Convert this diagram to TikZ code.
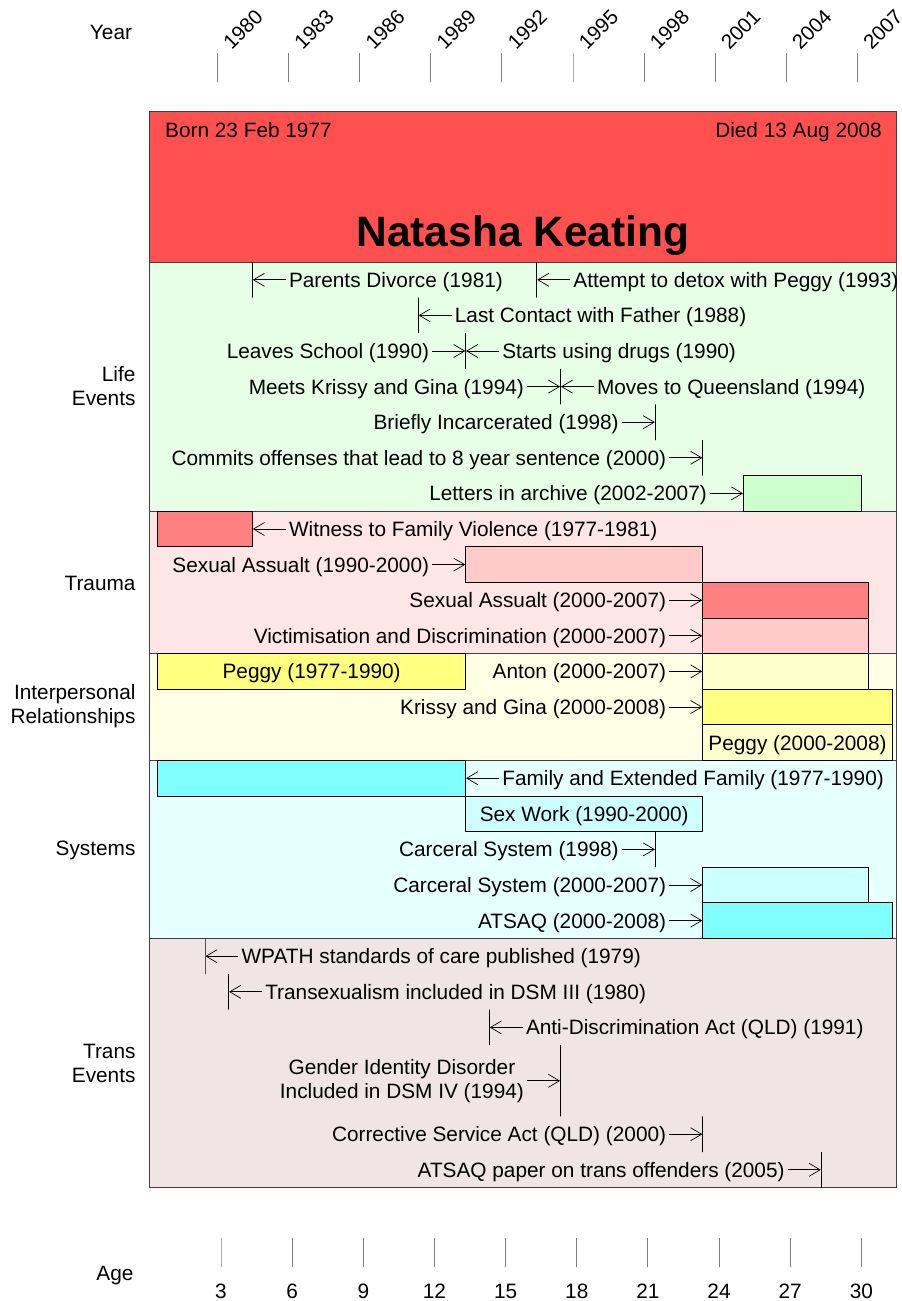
\documentclass[tikz,border=0pt]{standalone}
\usepackage{fontspec}
\setmainfont{Liberation Sans}
\usetikzlibrary{positioning, arrows.meta}

\definecolor{titlered}{HTML}{FF5050}
\definecolor{lifebg}{HTML}{E6FFE6}
\definecolor{letterbar}{HTML}{CCFFCC}
\definecolor{traumabg}{HTML}{FFE6E6}
\definecolor{redbar}{HTML}{FF8080}
\definecolor{pinkbar}{HTML}{FFCACA}
\definecolor{relbg}{HTML}{FFFFE6}
\definecolor{yellowbar}{HTML}{FFFF80}
\definecolor{paleyellow}{HTML}{FFFFCC}
\definecolor{sysbg}{HTML}{E6FFFF}
\definecolor{cyanbar}{HTML}{80FFFF}
\definecolor{palecyan}{HTML}{CCFFFF}
\definecolor{transbg}{HTML}{F0E4E4}
\definecolor{framegray}{HTML}{404040}

\begin{document}
\begin{tikzpicture}[x=1pt, y=-1pt, node distance=33pt,
    every node/.style={font=\fontsize{20.8}{24}\selectfont},
    txt/.style={inner sep=3pt, text height=15pt, text depth=0pt},
    evline/.style={draw=black, line width=0.8pt, inner sep=0pt, minimum width=0pt, minimum height=35.6pt},
    bar/.style={draw=black, line width=0.8pt, inner sep=0pt, minimum height=35.6pt, text height=15pt, text depth=0pt},
    pointer/.style={-{Straight Barb[length=11pt, width=13pt]}, line width=0.7pt},
    section/.style={draw=framegray, line width=1pt},
    axistick/.style={draw=gray, line width=1pt, inner sep=0pt, minimum width=0pt, minimum height=29pt},
    yearlabel/.style={rotate=45, anchor=south west, inner sep=0pt, font=\fontsize{20.5}{24}\selectfont}]

\useasboundingbox (0,0) rectangle (902,1301);

\draw[section, fill=titlered] (149.5,111) rectangle (896,262);
\draw[section, fill=lifebg] (149.5,262) rectangle (896,511.2);
\draw[section, fill=traumabg] (149.5,511.2) rectangle (896,653.6);
\draw[section, fill=relbg] (149.5,653.6) rectangle (896,760.4);
\draw[section, fill=sysbg] (149.5,760.4) rectangle (896,938.4);
\draw[section, fill=transbg] (149.5,938.4) rectangle (896,1187.6);

\node (year) at (111,32) {Year};
\foreach \yr [count=\i from 0] in {1980,1983,...,2007} {
    \node (t\yr) [axistick] at ({217.5+71.1*\i},67.5) {};
    \node (l\yr) [yearlabel] at ({232+71.1*\i},51) {\yr};
}
\node (age) at (115,1275) {Age};
\foreach \a [count=\i from 0] in {3,6,...,30} {
    \node (a\a) [axistick] at ({221+71.15*\i},1252.5) {};
    \node (n\a) at ({221+71.15*\i},1291) {\a};
}

\node (lifelbl) [align=right, anchor=east] at (139,386) {Life\\Events};
\node (traumalbl) [anchor=east] at (139,583) {Trauma};
\node (rellbl) [align=right, anchor=east] at (139,706) {Interpersonal\\Relationships};
\node (syslbl) [anchor=east] at (139,850) {Systems};
\node (translbl) [align=right, anchor=east] at (139,1063) {Trans\\Events};

\node (born) [txt, anchor=west] at (162,130) {Born 23 Feb 1977};
\node (died) [txt, anchor=east] at (885,130) {Died 13 Aug 2008};
\node (name) [font=\fontsize{42.5}{50}\selectfont\bfseries, anchor=base] at (523,246) {Natasha Keating};

% life events
\node (divorce) [evline] at (252.4,279.8) {};
\node (tdivorce) [txt, right=of divorce] {Parents Divorce (1981)};
\node (detox) [evline] at (536.8,279.8) {};
\node (tdetox) [txt, right=of detox] {Attempt to detox with Peggy (1993)};
\node (father) [evline] at (418.3,315.4) {};
\node (tfather) [txt, right=of father] {Last Contact with Father (1988)};
\node (school) [evline] at (465.7,351) {};
\node (tschool) [txt, left=of school] {Leaves School (1990)};
\node (tdrugs) [txt, right=of school] {Starts using drugs (1990)};
\node (move) [evline] at (560.5,386.6) {};
\node (tmeets) [txt, left=of move] {Meets Krissy and Gina (1994)};
\node (tmove) [txt, right=of move] {Moves to Queensland (1994)};
\node (jail) [evline] at (655.3,422.2) {};
\node (tjail) [txt, left=of jail] {Briefly Incarcerated (1998)};
\node (offense) [evline] at (702.7,457.8) {};
\node (toffense) [txt, left=of offense] {Commits offenses that lead to 8 year sentence (2000)};
\node (letters) [bar, fill=letterbar, minimum width=118.4pt] at (802.6,493.4) {};
\node (tletters) [txt, left=of letters] {Letters in archive (2002-2007)};

% trauma
\node (violence) [bar, fill=redbar, minimum width=94.8pt] at (205,529) {};
\node (tviolence) [txt, right=of violence] {Witness to Family Violence (1977-1981)};
\node (assault1) [bar, fill=pinkbar, minimum width=237pt] at (584.2,564.6) {};
\node (tassault1) [txt, left=of assault1] {Sexual Assualt (1990-2000)};
\node (assault2) [bar, fill=redbar, minimum width=166pt] at (785.7,600.2) {};
\node (tassault2) [txt, left=of assault2] {Sexual Assualt (2000-2007)};
\node (victim) [bar, fill=pinkbar, minimum width=166pt] at (785.7,635.8) {};
\node (tvictim) [txt, left=of victim] {Victimisation and Discrimination (2000-2007)};

% relationships
\node (peggy1) [bar, fill=yellowbar, minimum width=308.1pt] at (311.65,671.4) {Peggy (1977-1990)};
\node (anton) [bar, fill=paleyellow, minimum width=166pt] at (785.7,671.4) {};
\node (tanton) [txt, left=of anton] {Anton (2000-2007)};
\node (krissy) [bar, fill=yellowbar, minimum width=189.6pt] at (797.5,707) {};
\node (tkrissy) [txt, left=of krissy] {Krissy and Gina (2000-2008)};
\node (peggy2) [bar, fill=paleyellow, minimum width=189.6pt] at (797.5,742.6) {Peggy (2000-2008)};

% systems
\node (family) [bar, fill=cyanbar, minimum width=308.1pt] at (311.65,778.2) {};
\node (tfamily) [txt, right=of family] {Family and Extended Family (1977-1990)};
\node (sexwork) [bar, fill=palecyan, minimum width=237pt] at (584.2,813.8) {Sex Work (1990-2000)};
\node (prison1) [evline] at (655.3,849.4) {};
\node (tprison1) [txt, left=of prison1] {Carceral System (1998)};
\node (prison2) [bar, fill=palecyan, minimum width=166pt] at (785.7,885) {};
\node (tprison2) [txt, left=of prison2] {Carceral System (2000-2007)};
\node (atsaq) [bar, fill=cyanbar, minimum width=189.6pt] at (797.5,920.6) {};
\node (tatsaq) [txt, left=of atsaq] {ATSAQ (2000-2008)};

% trans events
\node (wpath) [evline] at (205,956.2) {};
\node (twpath) [txt, right=of wpath] {WPATH standards of care published (1979)};
\node (dsm3) [evline] at (228.7,991.8) {};
\node (tdsm3) [txt, right=of dsm3] {Transexualism included in DSM III (1980)};
\node (antidisc) [evline] at (489.4,1027.4) {};
\node (tantidisc) [txt, right=of antidisc] {Anti-Discrimination Act (QLD) (1991)};
\node (dsm4) [evline, minimum height=71.2pt] at (560.5,1080.8) {};
\node (tdsm4) [align=center, inner sep=3pt, left=of dsm4] {Gender Identity Disorder\\Included in DSM IV (1994)};
\node (corrective) [evline] at (702.7,1134.2) {};
\node (tcorrective) [txt, left=of corrective] {Corrective Service Act (QLD) (2000)};
\node (paper) [evline] at (821.2,1169.8) {};
\node (tpaper) [txt, left=of paper] {ATSAQ paper on trans offenders (2005)};

\draw[pointer] (tdivorce) -- (divorce);
\draw[pointer] (tdetox) -- (detox);
\draw[pointer] (tfather) -- (father);
\draw[pointer] (tschool) -- (school);
\draw[pointer] (tdrugs) -- (school);
\draw[pointer] (tmeets) -- (move);
\draw[pointer] (tmove) -- (move);
\draw[pointer] (tjail) -- (jail);
\draw[pointer] (toffense) -- (offense);
\draw[pointer] (tletters) -- (letters);
\draw[pointer] (tviolence) -- (violence);
\draw[pointer] (tassault1) -- (assault1);
\draw[pointer] (tassault2) -- (assault2);
\draw[pointer] (tvictim) -- (victim);
\draw[pointer] (tanton) -- (anton);
\draw[pointer] (tkrissy) -- (krissy);
\draw[pointer] (tfamily) -- (family);
\draw[pointer] (tprison1) -- (prison1);
\draw[pointer] (tprison2) -- (prison2);
\draw[pointer] (tatsaq) -- (atsaq);
\draw[pointer] (twpath) -- (wpath);
\draw[pointer] (tdsm3) -- (dsm3);
\draw[pointer] (tantidisc) -- (antidisc);
\draw[pointer] (tdsm4) -- (dsm4);
\draw[pointer] (tcorrective) -- (corrective);
\draw[pointer] (tpaper) -- (paper);
\end{tikzpicture}
\end{document}
